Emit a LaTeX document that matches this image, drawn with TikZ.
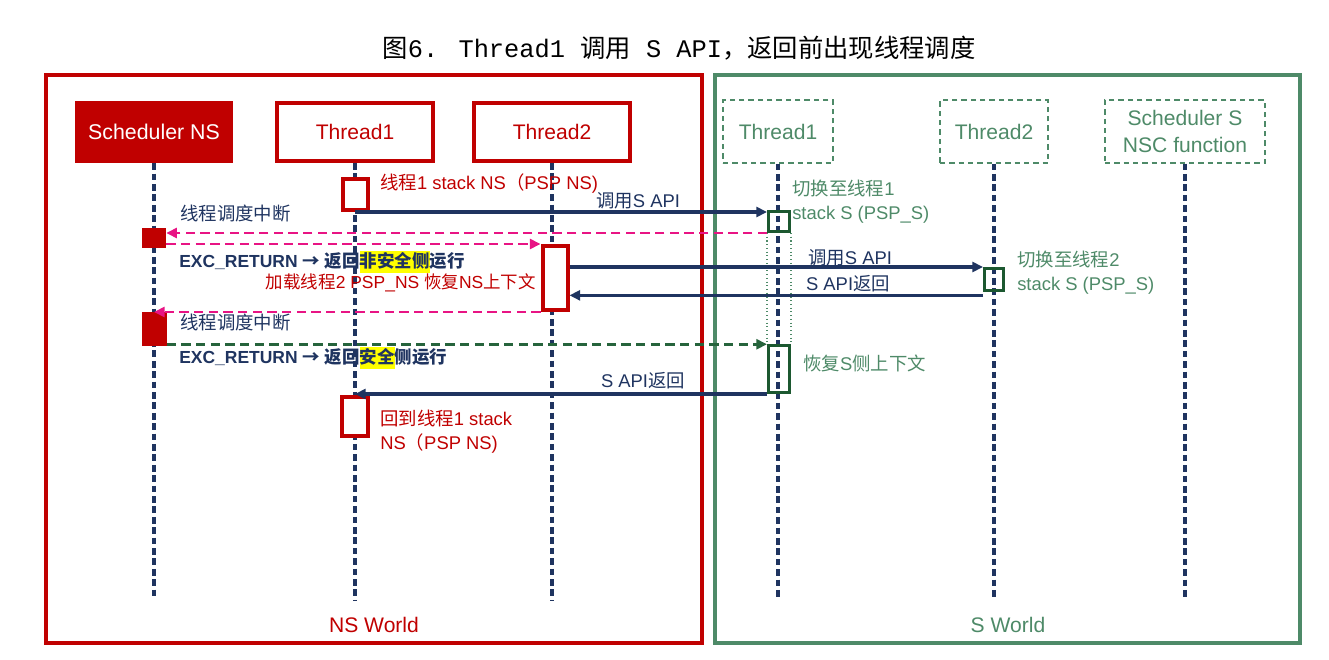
\documentclass[tikz,border=0pt]{standalone}
\usepackage{fontspec}
\setmainfont{Liberation Sans}
\newfontfamily\cjk{Noto Sans CJK SC}
\newfontfamily\tmono{Liberation Mono}
\usetikzlibrary{arrows.meta}
\newcommand\zh[1]{{\cjk #1}}
\newcommand\hlt[1]{{\setlength\fboxsep{0pt}\colorbox{hly}{\rule[-4pt]{0pt}{16pt}\zh{#1}}}}
\definecolor{nsred}{RGB}{192,0,0}
\definecolor{navy}{RGB}{31,52,96}
\definecolor{sgreen}{RGB}{78,138,104}
\definecolor{dgreen}{RGB}{28,88,48}
\definecolor{rgreen}{RGB}{38,100,60}
\definecolor{pink}{RGB}{232,20,132}
\definecolor{hly}{RGB}{255,255,0}
\begin{document}
\begin{tikzpicture}[x=0.75pt,y=-0.75pt,
 life/.style={draw=navy, line width=2.4pt, dash pattern=on 5pt off 2.8pt},
 nshead/.style={draw=nsred, line width=3pt, fill=white, text=nsred, font=\fontsize{15.8}{18}\selectfont, inner sep=0, minimum width=117pt, minimum height=43.5pt},
 schhead/.style={fill=nsred, text=white, font=\fontsize{16}{18}\selectfont, inner sep=0, minimum width=118.5pt, minimum height=46.5pt},
 shead/.style={draw=sgreen, line width=1.1pt, dash pattern=on 4pt off 3pt, text=sgreen, font=\fontsize{15.8}{20}\selectfont, inner sep=0, align=center, minimum height=47pt},
 nsact/.style={draw=nsred, line width=3pt, fill=white, inner sep=0},
 schact/.style={fill=nsred, inner sep=0},
 sact/.style={draw=dgreen, line width=2.25pt, inner sep=0},
 call/.style={draw=navy, line width=2.3pt, -{Triangle[length=8pt,width=7.5pt]}},
 intr/.style={draw=pink, line width=2pt, dash pattern=on 7pt off 4pt, -{Triangle[length=8pt,width=7.5pt]}},
 resume/.style={draw=rgreen, line width=2.1pt, dash pattern=on 7pt off 4pt, -{Triangle[length=8pt,width=7.5pt]}},
 lab/.style={inner sep=0, font=\fontsize{13.8}{18}\selectfont},
 blab/.style={inner sep=0, text=navy, font=\fontsize{13.1}{18}\selectfont\bfseries},
 frame/.style={line width=3pt, inner sep=0, minimum height=426pt}
]
\useasboundingbox (0,0) rectangle (1329,660);

% title
\node[font=\fontsize{19}{22}\selectfont] (title) at (679,48) {\zh{图}{\tmono 6. Thread1 }\zh{调用}{\tmono{} S API}\zh{，返回前出现线程调度}};

% frames
\node[frame, draw=nsred, minimum width=492pt] (nsw) at (374,359) {};
\node[frame, draw=sgreen, minimum width=438.75pt] (sw) at (1007.5,359) {};
\node[text=nsred, font=\fontsize{15.8}{18}\selectfont] (nsl) at (374,625) {NS World};
\node[text=sgreen, font=\fontsize{15.8}{18}\selectfont] (sl) at (1008,625) {S World};

% headers
\node[schhead] (hsn) at (154,132) {Scheduler NS};
\node[nshead] (ht1) at (355,132) {Thread1};
\node[nshead] (ht2) at (552,132) {Thread2};
\node[shead, minimum width=82.5pt] (hs1) at (778,131.5) {Thread1};
\node[shead, minimum width=81pt] (hs2) at (994,131.5) {Thread2};
\node[shead, minimum width=120pt] (hss) at (1185,131.5) {Scheduler S\\NSC function};

% lifeline ends
\coordinate (esn) at (154,600);
\coordinate (et1) at (355,600);
\coordinate (et2) at (552,600);
\coordinate (es1) at (778,600);
\coordinate (es2) at (994,600);
\coordinate (ess) at (1185,600);
\draw[life] (hsn.south) -- (esn);
\draw[life] (ht1.south) -- (et1);
\draw[life] (ht2.south) -- (et2);
\draw[life] (hs1.south) -- (es1);
\draw[life] (hs2.south) -- (es2);
\draw[life] (hss.south) -- (ess);

% activations
\node[nsact, minimum width=18.75pt, minimum height=23.25pt] (a1) at (355,194.5) {};
\node[schact, minimum width=18pt, minimum height=15pt] (sn1) at (154,237.5) {};
\node[nsact, minimum width=18.75pt, minimum height=48pt] (ta2) at (555,278) {};
\node[sact, minimum width=15.75pt, minimum height=15pt] (sa1) at (779,221.5) {};
\node[sact, minimum width=14.25pt, minimum height=16.5pt] (sa2) at (994,279.5) {};
\node[schact, minimum width=18.75pt, minimum height=25.5pt] (sn2) at (154,329) {};
\node[sact, minimum width=15.75pt, minimum height=35.25pt] (sb2) at (779,369) {};
\node[nsact, minimum width=19.5pt, minimum height=29.25pt] (ta3) at (355,416.5) {};

% dotted continuation
\draw[sgreen, line width=0.8pt, dotted] (sa1.south west) -- (sb2.north west);
\draw[sgreen, line width=0.8pt, dotted] (sa1.south east) -- (sb2.north east);

% messages
\draw[call] (a1.south) -- (a1.south -| sa1.west);
\draw[intr] (sa1.south west) -- (sa1.south west -| sn1.east);
\draw[intr] (sn1.east |- ta2.north west) -- (ta2.north west);
\draw[call] (ta2.east |- sa2.north) -- (sa2.north west);
\draw[call] ([yshift=-2.5pt]sa2.south west) -- ([yshift=-2.5pt]sa2.south west -| ta2.east);
\draw[intr] (ta2.south west) -- (ta2.south west -| sn2.north);
\draw[resume] ([yshift=1.5pt]sn2.south east) -- ([yshift=1.5pt]sn2.south east -| sb2.west);
\draw[call] (sb2.south west) -- (sb2.south west -| ta3.north);

% labels
\node[lab, text=nsred, anchor=west] (l1) at (380,184) {\zh{线程}1 stack NS\zh{（}PSP NS)};
\node[lab, text=navy] (l2) at (638,201) {\zh{调用}S API};
\node[lab, text=sgreen, anchor=west, align=left] (l3) at (792,202) {\zh{切换至线程}1\\stack S (PSP\_S)};
\node[lab, text=navy, anchor=west] (l4) at (180,214) {\zh{线程调度中断}};
\node[blab, anchor=west] (l5) at (179,262) {EXC\_RETURN \zh{→} \zh{返回}\hlt{非安全侧}\zh{运行}};
\node[lab, text=nsred, anchor=east, font=\fontsize{13.1}{18}\selectfont] (l6) at (536,283) {\zh{加载线程}2 PSP\_NS \zh{恢复}NS\zh{上下文}};
\node[lab, text=navy] (l7) at (850,258) {\zh{调用}S API};
\node[lab, text=navy] (l8) at (848,284) {S API\zh{返回}};
\node[lab, text=sgreen, anchor=west, align=left] (l9) at (1017,273) {\zh{切换至线程}2\\stack S (PSP\_S)};
\node[lab, text=navy, anchor=west] (l10) at (180,323) {\zh{线程调度中断}};
\node[blab, anchor=west] (l11) at (179,358) {EXC\_RETURN \zh{→} \zh{返回}\hlt{安全}\zh{侧运行}};
\node[lab, text=sgreen, anchor=west] (l12) at (803,363) {\zh{恢复}S\zh{侧上下文}};
\node[lab, text=navy] (l13) at (643,381) {S API\zh{返回}};
\node[lab, text=nsred, anchor=west, align=left] (l14) at (380,432) {\zh{回到线程}1 stack\\NS\zh{（}PSP NS)};
\end{tikzpicture}
\end{document}
